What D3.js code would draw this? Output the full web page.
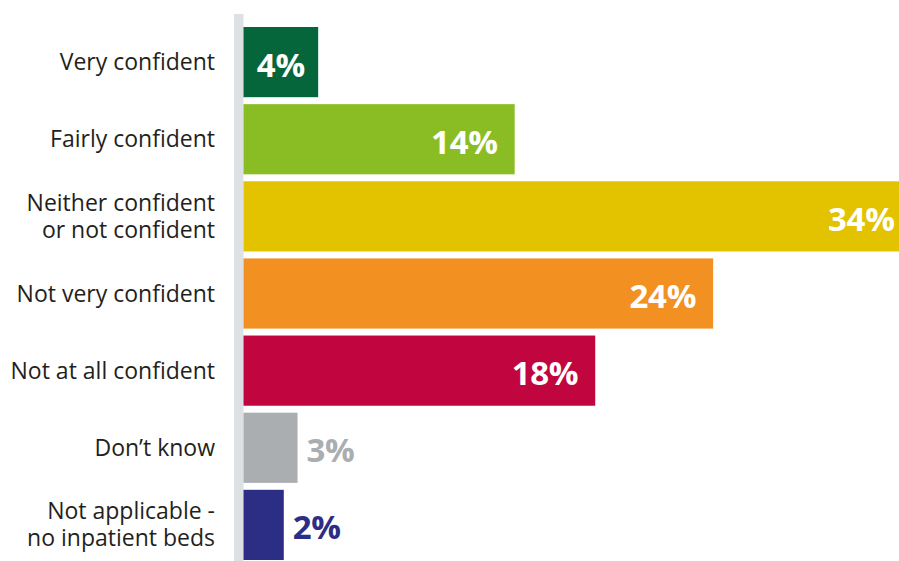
<!DOCTYPE html>
<html><head><meta charset="utf-8">
<script src="https://cdn.jsdelivr.net/npm/d3@7"></script>
<style>body{margin:0;background:#fff;} svg{display:block;}</style>
</head><body>
<svg id="c" width="899" height="561"></svg>
<script>
const categories = [["Very confident"],["Fairly confident"],["Neither confident","or not confident"],["Not very confident"],["Not at all confident"],["Don’t know"],["Not applicable -","no inpatient beds"]];
const values = [3.8, 13.8, 34, 23.9, 17.9, 2.75, 2.05];
const valueLabels = ["4%","14%","34%","24%","18%","3%","2%"];
const colors = ["#05653b","#8abd24","#e3c300","#f29122","#c1063f","#abaeb0","#2c2d84"];

const svg = d3.select("#c");
const x0 = 243.5;
const x = d3.scaleLinear().domain([0, 34]).range([x0, x0 + 34*19.65]);
const y = d3.scaleBand().domain(d3.range(values.length)).range([27, 560]).paddingInner(0.09).paddingOuter(0);

svg.append("rect").attr("x", 234).attr("y", 14).attr("width", 9.5).attr("height", 561-14).attr("fill", "#dde1e4");

svg.selectAll("rect.bar").data(values).join("rect").attr("class","bar")
  .attr("x", x(0)).attr("y", (d,i)=>y(i)).attr("width", d=>x(d)-x(0)).attr("height", y.bandwidth())
  .attr("fill", (d,i)=>colors[i]);

const font = "'Open Sans', sans-serif";
const pos = d => {
  const w = x(d) - x(0);
  if (d < 3.5) return {x: x(d)+9, a: "start", inside: false};
  if (w < 90) return {x: x(0)+w/2, a: "middle", inside: true};
  return {x: x(d)-17, a: "end", inside: true};
};
svg.selectAll("text.val").data(values).join("text").attr("class","val")
  .attr("font-family", font).attr("font-weight", 700).attr("font-size", 33)
  .attr("dominant-baseline","central")
  .attr("y", (d,i)=>y(i)+y.bandwidth()/2+2)
  .attr("x", d=>pos(d).x)
  .attr("text-anchor", d=>pos(d).a)
  .attr("fill", (d,i)=> pos(d).inside ? "#fff" : colors[i])
  .attr("letter-spacing", -0.3)
  .text((d,i)=>valueLabels[i]);

const lab = svg.selectAll("text.lab").data(categories).join("text").attr("class","lab")
  .attr("font-family", font).attr("font-size", 23).attr("fill","#231f20")
  .attr("text-anchor","end");
lab.each(function(lines,i){
  const t = d3.select(this);
  const cy = y(i)+y.bandwidth()/2;
  const lh = 27;
  lines.forEach((l,j)=>{
    t.append("tspan").attr("x", 215).attr("y", cy + (j-(lines.length-1)/2)*lh).attr("dy","0.35em").text(l);
  });
});
</script>
</body></html>
